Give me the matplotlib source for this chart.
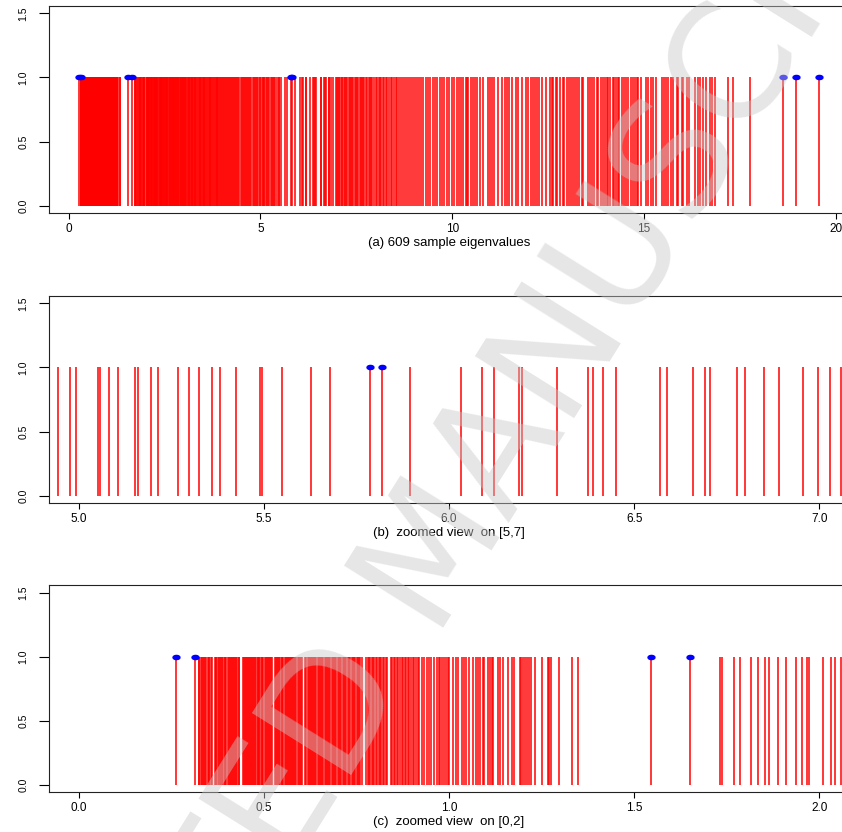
import matplotlib

matplotlib.use("Agg")
import matplotlib.pyplot as plt
import numpy as np
from matplotlib.path import Path


# eigenvalues (bulk, sparse tail, spikes)
eig_bulk = [
    0.324, 0.326, 0.330, 0.333, 0.335, 0.339, 0.342, 0.344, 0.348, 0.351,
    0.353, 0.357, 0.359, 0.367, 0.370, 0.372, 0.376, 0.379, 0.381, 0.385,
    0.388, 0.390, 0.394, 0.396, 0.399, 0.403, 0.405, 0.408, 0.412, 0.414,
    0.417, 0.420, 0.423, 0.426, 0.428, 0.432, 0.434, 0.444, 0.447, 0.449,
    0.452, 0.455, 0.458, 0.460, 0.463, 0.466, 0.469, 0.471, 0.474, 0.477,
    0.480, 0.483, 0.485, 0.488, 0.491, 0.494, 0.496, 0.499, 0.502, 0.505,
    0.508, 0.510, 0.513, 0.516, 0.519, 0.522, 0.531, 0.533, 0.536, 0.539,
    0.542, 0.545, 0.548, 0.550, 0.553, 0.556, 0.559, 0.562, 0.565, 0.568,
    0.570, 0.573, 0.576, 0.579, 0.582, 0.585, 0.588, 0.591, 0.594, 0.597,
    0.600, 0.603, 0.612, 0.615, 0.618, 0.621, 0.624, 0.627, 0.630, 0.633,
    0.636, 0.639, 0.642, 0.645, 0.648, 0.652, 0.655, 0.658, 0.661, 0.664,
    0.667, 0.670, 0.674, 0.677, 0.680, 0.683, 0.686, 0.690, 0.693, 0.696,
    0.699, 0.703, 0.706, 0.709, 0.713, 0.716, 0.719, 0.723, 0.726, 0.730,
    0.733, 0.737, 0.740, 0.744, 0.747, 0.751, 0.754, 0.758, 0.761, 0.765,
    0.776, 0.780, 0.783, 0.787, 0.791, 0.795, 0.798, 0.802, 0.806, 0.810,
    0.814, 0.817, 0.821, 0.825, 0.829, 0.833, 0.843, 0.847, 0.851, 0.855,
    0.859, 0.863, 0.868, 0.872, 0.876, 0.880, 0.885, 0.889, 0.893, 0.898,
    0.902, 0.906, 0.911, 0.915, 0.920, 0.928, 0.933, 0.940, 0.946, 0.951,
    0.960, 0.967, 0.973, 0.976, 0.980, 0.986, 0.991, 0.996, 1.000, 1.012,
    1.018, 1.024, 1.036, 1.041, 1.045, 1.054, 1.066, 1.072, 1.077, 1.084,
    1.092, 1.095, 1.106, 1.111, 1.115, 1.120, 1.132, 1.137, 1.146, 1.158,
    1.169, 1.176, 1.191, 1.194, 1.200, 1.205, 1.210, 1.216, 1.221, 1.232,
    1.251, 1.266, 1.271, 1.275, 1.298, 1.331, 1.349,
]

eig_low_tail = [
    1.732, 1.738, 1.769, 1.786, 1.815, 1.835, 1.853, 1.864, 1.888, 1.910,
    1.937, 1.953, 1.966, 1.972, 2.009, 2.032, 2.042, 2.059,
]

eig_2_to_5 = [
    2.071, 2.083, 2.097, 2.104, 2.122, 2.139, 2.151, 2.170, 2.178, 2.196,
    2.214, 2.229, 2.243, 2.262, 2.270, 2.291, 2.308, 2.317, 2.336, 2.352,
    2.371, 2.384, 2.399, 2.421, 2.433, 2.447, 2.468, 2.482, 2.495, 2.517,
    2.530, 2.549, 2.566, 2.578, 2.602, 2.614, 2.633, 2.651, 2.662, 2.684,
    2.701, 2.716, 2.738, 2.752, 2.771, 2.790, 2.803, 2.829, 2.846, 2.861,
    2.880, 2.902, 2.918, 2.935, 2.957, 2.973, 2.991, 3.012, 3.030, 3.047,
    3.071, 3.089, 3.104, 3.128, 3.146, 3.163, 3.189, 3.207, 3.222, 3.248,
    3.271, 3.289, 3.305, 3.331, 3.352, 3.368, 3.394, 3.413, 3.432, 3.458,
    3.476, 3.497, 3.522, 3.541, 3.566, 3.583, 3.607, 3.631, 3.652, 3.674,
    3.699, 3.716, 3.742, 3.768, 3.785, 3.812, 3.836, 3.858, 3.881, 3.907,
    3.929, 3.956, 3.978, 4.006, 4.031, 4.055, 4.083, 4.104, 4.132, 4.160,
    4.185, 4.211, 4.239, 4.262, 4.291, 4.318, 4.342, 4.371, 4.399, 4.426,
    4.452, 4.483, 4.509, 4.537, 4.566, 4.591, 4.622, 4.651, 4.679, 4.708,
    4.739, 4.766, 4.797, 4.826, 4.858, 4.887, 4.915,
]

eig_5_to_7 = [
    4.945, 4.977, 4.994, 5.053, 5.059, 5.081, 5.105, 5.151, 5.161, 5.195,
    5.215, 5.267, 5.298, 5.324, 5.361, 5.383, 5.426, 5.489, 5.495, 5.548,
    5.628, 5.680, 5.896, 6.032, 6.088, 6.121, 6.190, 6.196, 6.291, 6.374,
    6.389, 6.417, 6.451, 6.569, 6.589, 6.659, 6.691, 6.705, 6.778, 6.798,
    6.851, 6.891, 6.957, 6.996, 7.030, 7.059,
]

eig_7_to_9 = [
    7.084, 7.121, 7.139, 7.176, 7.214, 7.232, 7.268, 7.301, 7.327, 7.355,
    7.398, 7.420, 7.461, 7.489, 7.512, 7.553, 7.590, 7.614, 7.652, 7.683,
    7.711, 7.758, 7.790, 7.818, 7.861, 7.893, 7.921, 7.968, 8.004, 8.037,
    8.079, 8.112, 8.151, 8.186, 8.232, 8.271, 8.305, 8.352, 8.397, 8.433,
    8.481, 8.526, 8.571, 8.618, 8.664, 8.709, 8.762, 8.811, 8.860, 8.914,
    8.966, 9.021, 9.083, 9.137,
]

eig_upper = [
    9.183, 9.244, 9.314, 9.374, 9.418, 9.487, 9.548, 9.609, 9.679, 9.722,
    9.783, 9.853, 9.922, 9.983, 10.053, 10.114, 10.183, 10.227, 10.287, 10.348,
    10.374, 10.418, 10.479, 10.531, 10.592, 10.653, 10.722, 10.792, 10.940, 10.983,
    11.027, 11.087, 11.200, 11.287, 11.374, 11.435, 11.487, 11.548, 11.661, 11.722,
    11.809, 11.922, 11.983, 12.044, 12.114, 12.157, 12.200, 12.270, 12.331, 12.444,
    12.548, 12.592, 12.635, 12.696, 12.740, 12.809, 12.879, 12.914, 12.983, 13.044,
    13.087, 13.140, 13.200, 13.244, 13.314, 13.374, 13.418, 13.548, 13.592, 13.635,
    13.696, 13.766, 13.809, 13.870, 13.922, 13.983, 14.027, 14.070, 14.114, 14.183,
    14.218, 14.270, 14.314, 14.357, 14.418, 14.479, 14.531, 14.592, 14.661, 14.705,
    14.766, 14.809, 14.853, 14.914, 15.053, 15.113, 15.174, 15.244, 15.305, 15.479,
    15.522, 15.566, 15.635, 15.696, 15.766, 15.853, 15.896, 15.983, 16.026, 16.113,
    16.157, 16.331, 16.392, 16.461, 16.531, 16.618, 16.705, 16.766, 16.853, 17.174,
    17.314, 17.766,
]

# eigenvalues marked with a blue dot
eig_spikes = [0.264, 0.315, 1.545, 1.651, 5.787, 5.819, 18.61, 18.96, 19.57]

panel_xlims = [(-0.51, 20.34), (4.92, 7.08), (-0.08, 2.08)]
panel_xticks = [[0, 5, 10, 15, 20], [5.0, 5.5, 6.0, 6.5, 7.0], [0.0, 0.5, 1.0, 1.5, 2.0]]
panel_xticklabels = [
    ["0", "5", "10", "15", "20"],
    ["5.0", "5.5", "6.0", "6.5", "7.0"],
    ["0.0", "0.5", "1.0", "1.5", "2.0"],
]
panel_titles = [
    "(a) 609 sample eigenvalues",
    "(b)  zoomed view  on [5,7]",
    "(c)  zoomed view  on [0,2]",
]
y_ticks = [0.0, 0.5, 1.0, 1.5]
y_ticklabels = ["0.0", "0.5", "1.0", "1.5"]

W, H = 842, 832
# (top, bottom) of each plot box in pixels
PANEL_ROWS = [(5.7, 213.3), (295.7, 503.3), (585.0, 792.3)]
BOX_LEFT, BOX_RIGHT = 49, 849

# flattened ellipse for the blue dots
_t = np.linspace(0, 2 * np.pi, 40)
DOT = Path(np.column_stack([np.cos(_t), 0.6 * np.sin(_t)]))


def _desenhar_painel(ax, valores, idx):
    ax.vlines(valores, 0, 1, colors="#ff0000", linewidth=1.1)
    ax.plot(eig_spikes, np.ones(len(eig_spikes)), linestyle="none",
            marker=DOT, markersize=5, color="#0000ff", clip_on=True)

    ax.set_xlim(*panel_xlims[idx])
    ax.set_ylim(-0.06, 1.56)
    ax.set_xticks(panel_xticks[idx])
    ax.set_xticklabels(panel_xticklabels[idx], fontsize=8.5)
    ax.set_yticks(y_ticks)
    ax.set_yticklabels(y_ticklabels, fontsize=7.5, rotation=90, va="center")

    ax.tick_params(axis="x", length=4.3, width=0.8, pad=2.5)
    ax.tick_params(axis="y", length=7, width=0.8, pad=8)
    for s in ax.spines.values():
        s.set_linewidth(0.8)
        s.set_color("#222222")

    ax.set_xlabel(panel_titles[idx], fontsize=9.5, va="center")
    ax.xaxis.set_label_coords(0.5, -30 / 207.6)


def main():
    plt.rcParams["font.family"] = ["Liberation Sans", "DejaVu Sans"]
    fig = plt.figure(figsize=(W / 100, H / 100), dpi=100)

    todos = np.sort(np.concatenate([eig_bulk, eig_low_tail, eig_2_to_5, eig_5_to_7,
                                    eig_7_to_9, eig_upper, eig_spikes]))

    for i, (top, bottom) in enumerate(PANEL_ROWS):
        ax = fig.add_axes([BOX_LEFT / W, 1 - bottom / H,
                           (BOX_RIGHT - BOX_LEFT) / W, (bottom - top) / H])
        _desenhar_painel(ax, todos, i)

    # watermark of the manuscript page
    fig.text(0.52, 0.335, "ACCEPTED MANUSCRIPT", rotation=58, fontsize=115,
             family="DejaVu Sans", color="#c8c8c8", alpha=0.45,
             ha="center", va="center", zorder=20)

    fig.savefig("out.png", dpi=100)


if __name__ == "__main__":
    main()
